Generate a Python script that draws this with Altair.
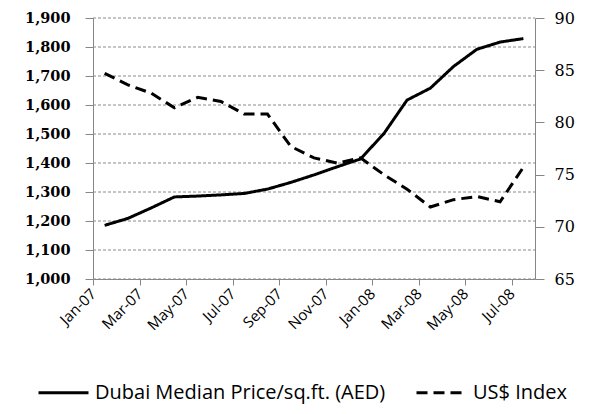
import altair as alt
import pandas as pd

months = ["Jan-07", "Feb-07", "Mar-07", "Apr-07", "May-07", "Jun-07", "Jul-07",
          "Aug-07", "Sep-07", "Oct-07", "Nov-07", "Dec-07", "Jan-08", "Feb-08",
          "Mar-08", "Apr-08", "May-08", "Jun-08", "Jul-08"]
price = [1185, 1209, 1245, 1283, 1286, 1290, 1295, 1310, 1333, 1359, 1387, 1414,
         1501, 1617, 1658, 1733, 1792, 1817, 1829]
usd = [84.7, 83.6, 82.8, 81.4, 82.4, 82.0, 80.8, 80.8, 77.7, 76.6, 76.1, 76.6,
       75.0, 73.6, 71.9, 72.6, 72.9, 72.4, 75.7]
tick_labels = months[::2]
left_ticks = list(range(1000, 1901, 100))
right_ticks = list(range(65, 91, 5))

s_price = "Dubai Median Price/sq.ft. (AED)"
s_usd = "US$ Index"

n = len(months)
# month index -> centre of its monthly slot (Excel date axis style)
pos = [i + 0.5 for i in range(n)]
df_p = pd.DataFrame({"pos": pos, "month": months, "value": price, "series": s_price})
df_u = pd.DataFrame({"pos": pos, "month": months, "value": usd, "series": s_usd})
# gridlines: each left tick value spans the whole x domain
df_g = pd.DataFrame({"gv": left_ticks, "x0": [0] * len(left_ticks), "x1": [n] * len(left_ticks)})

label_arr = "[" + ",".join(f"'{m}'" for m in tick_labels) + "]"

GRAY = "#868686"

x_scale = alt.Scale(domain=[0, n], nice=False, zero=False)
x_axis = alt.Axis(
    values=list(range(0, n, 2)),
    labelExpr=f"{label_arr}[round(datum.value/2)]",
    labelAngle=-45, labelAlign="right", labelBaseline="middle",
    labelFont="Open Sans", labelFontSize=15, labelColor="black",
    labelPadding=6, labelOverlap=False, tickSize=6, tickColor=GRAY,
    domainColor=GRAY, ticks=True, grid=False, title=None,
)
x_enc = alt.X("pos:Q", scale=x_scale, axis=x_axis)

left_scale = alt.Scale(domain=[1000, 1900], nice=False, zero=False)
left_axis = alt.Axis(
    values=left_ticks,
    labelExpr="floor(datum.value/1000) + ',' + (datum.value % 1000 == 0 ? '000' : '' + (datum.value % 1000))",
    labelFont="DejaVu Serif", labelFontWeight="bold", labelFontSize=14.5,
    labelColor="black", labelPadding=15, ticks=True, tickSize=8,
    tickColor=GRAY, tickWidth=1, domainColor=GRAY, grid=False,
    title=None,
)

dash_scale = alt.Scale(domain=[s_price, s_usd], range=[[1, 0], [11, 6]])
legend = alt.Legend(
    title=None, orient="none", legendX=-56, legendY=348, direction="horizontal",
    symbolType="stroke", symbolSize=2500, symbolStrokeWidth=3,
    symbolStrokeColor="black", labelFont="Open Sans", labelFontSize=20,
    labelColor="black", labelLimit=400, columnPadding=24, symbolOffset=0,
    labelOffset=5,
)

grid = alt.Chart(df_g).mark_rule(color="#8a8a8a", strokeWidth=1, strokeDash=[3, 2]).encode(
    x=alt.X("x0:Q", scale=x_scale, axis=x_axis),
    x2="x1:Q",
    y=alt.Y("gv:Q", scale=left_scale, axis=left_axis),
)

line_p = alt.Chart(df_p).mark_line(color="black", strokeWidth=3).encode(
    x=x_enc,
    y=alt.Y("value:Q", scale=left_scale, axis=left_axis),
    strokeDash=alt.StrokeDash("series:N", scale=dash_scale, legend=legend),
)

line_u = alt.Chart(df_u).mark_line(color="black", strokeWidth=3).encode(
    x=x_enc,
    y=alt.Y(
        "value:Q",
        scale=alt.Scale(domain=[65, 90], nice=False, zero=False),
        axis=alt.Axis(
            orient="right", values=right_ticks, labelFont="DejaVu Serif",
            labelFontSize=16, labelColor="black", labelPadding=10, ticks=True,
            tickSize=9, tickWidth=1, tickColor=GRAY, domainColor=GRAY,
            grid=False, title=None,
        ),
    ),
    strokeDash=alt.StrokeDash("series:N", scale=dash_scale, legend=legend),
)

chart = (
    alt.layer(alt.layer(grid, line_p), line_u)
    .resolve_scale(y="independent")
    .properties(
        width=442, height=261,
        autosize=alt.AutoSizeParams(type="none"),
        padding={"left": 85, "top": 10, "right": 48, "bottom": 133},
        background="white",
    )
    .configure_view(stroke=None)
)

chart.save("out.html", embed_options={"renderer": "svg", "actions": False})
